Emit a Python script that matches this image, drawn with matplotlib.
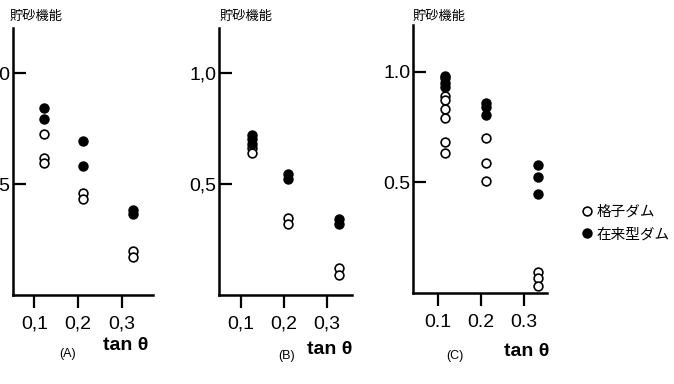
import matplotlib
matplotlib.use("Agg")
import matplotlib.pyplot as plt
from matplotlib.lines import Line2D

# readings (貯砂機能 vs tan θ)
a_open_x = [0.123, 0.123, 0.123, 0.212, 0.212, 0.326, 0.326]
a_open_y = [0.725, 0.617, 0.595, 0.46, 0.43, 0.20, 0.17]
a_fill_x = [0.123, 0.123, 0.212, 0.212, 0.326, 0.326]
a_fill_y = [0.84, 0.79, 0.69, 0.58, 0.38, 0.365]

b_open_x = [0.126, 0.126, 0.21, 0.21, 0.328, 0.328]
b_open_y = [0.66, 0.64, 0.345, 0.32, 0.12, 0.09]
b_fill_x = [0.126, 0.126, 0.126, 0.21, 0.21, 0.328, 0.328]
b_fill_y = [0.72, 0.70, 0.68, 0.545, 0.52, 0.34, 0.32]

c_open_x = [0.116] * 6 + [0.211] * 3 + [0.333] * 3
c_open_y = [0.89, 0.87, 0.83, 0.79, 0.68, 0.63, 0.70, 0.585, 0.507, 0.095, 0.068, 0.03]
c_fill_x = [0.116] * 4 + [0.211] * 3 + [0.333] * 3
c_fill_y = [0.98, 0.97, 0.95, 0.93, 0.86, 0.84, 0.805, 0.58, 0.525, 0.445]

xticks = [0.1, 0.2, 0.3]
yticks = [0.5, 1.0]
xlabels_comma = ["0,1", "0,2", "0,3"]
ylabels_comma = ["0,5", "1,0"]
xlabels_dot = ["0.1", "0.2", "0.3"]
ylabels_dot = ["0.5", "1.0"]

ylabel_txt = "貯砂機能"
legend_txt = ["格子ダム", "在来型ダム"]
panel_names = ["(A)", "(B)", "(C)"]

W, H = 674, 384
cjk = ["Noto Sans CJK JP", "DejaVu Sans"]
latin = "Liberation Sans"

fig = plt.figure(figsize=(W / 100, H / 100), dpi=100)


def box(l, r, top, bot):
    return [l / W, 1 - bot / H, (r - l) / W, (bot - top) / H]


panels = [
    (box(13, 153, 28, 295), (0.0513, 0.372), (0, 1.2), a_open_x, a_open_y, a_fill_x, a_fill_y,
     xlabels_comma, ylabels_comma),
    (box(219, 352, 28, 295), (0.049, 0.358), (0, 1.2), b_open_x, b_open_y, b_fill_x, b_fill_y,
     xlabels_comma, ylabels_comma),
    (box(413, 547, 25, 293), (0.042, 0.353), (0, 1.21), c_open_x, c_open_y, c_fill_x, c_fill_y,
     xlabels_dot, ylabels_dot),
]

mk = dict(marker="o", ls="none", ms=6.3, mec="black", mew=1.2)

for rect, xl, yl, ox, oy, fx, fy, xlab, ylab in panels:
    ax = fig.add_axes(rect)
    ax.plot(ox, oy, mfc="white", **mk)
    ax.plot(fx, fy, mfc="black", **mk)
    ax.set_xlim(*xl)
    ax.set_ylim(*yl)
    for s in ["top", "right"]:
        ax.spines[s].set_visible(False)
    for s in ["left", "bottom"]:
        ax.spines[s].set_linewidth(1.8)
    ax.set_xticks(xticks)
    ax.set_xticklabels(xlab, fontfamily=latin, fontsize=14)
    ax.set_yticks(yticks)
    ax.set_yticklabels(ylab, fontfamily=latin, fontsize=14)
    ax.tick_params(axis="x", direction="out", length=9, width=1.6, pad=6)
    ax.tick_params(axis="y", direction="in", length=9, width=1.6, pad=2)
    ax.patch.set_alpha(0)

# axis titles, x labels and panel letters, placed in pixels
for x in [10, 220, 413]:
    fig.text(x / W, 1 - 16 / H, ylabel_txt, family=cjk, fontsize=9.5, va="center", ha="left")
for x, y in [(126, 345), (330, 350), (527, 352)]:
    fig.text(x / W, 1 - y / H, "tan θ", family=latin, fontsize=14, fontweight="bold",
             va="center", ha="center")
for name, (x, y) in zip(panel_names, [(68, 354), (287, 356), (455, 356)]):
    fig.text(x / W, 1 - y / H, name, family=latin, fontsize=9, va="center", ha="center")

handles = [
    Line2D([], [], mfc="white", **mk),
    Line2D([], [], mfc="black", **mk),
]
fig.legend(handles, legend_txt, loc="center left", bbox_to_anchor=(583 / W, 1 - 223 / H),
           frameon=False, handlelength=0.6, handletextpad=0.3, labelspacing=0.6,
           borderpad=0, borderaxespad=0, prop={"family": cjk, "size": 10.5})

fig.savefig("out.png", dpi=100)
